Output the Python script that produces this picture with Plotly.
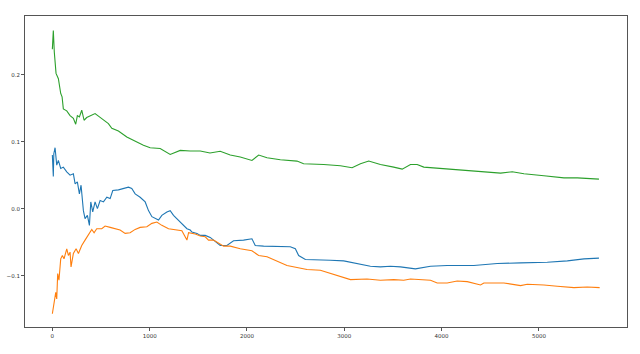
import plotly.graph_objects as go

# Series 1 (blue)
blue_x = [0, 10, 15, 28, 45, 62, 86, 113, 148, 182, 216, 234, 257, 278, 295, 319, 336, 360, 381, 395,
          415, 439, 463, 491, 525, 560, 594, 621, 679, 730, 782, 816, 851, 902, 954, 988, 1023, 1091,
          1125, 1177, 1211, 1245, 1314, 1383, 1417, 1434, 1486, 1520, 1571, 1622, 1725, 1794, 1862,
          1965, 2051, 2085, 2171, 2308, 2445, 2497, 2531, 2600, 2720, 2857, 2994, 3131, 3268, 3371,
          3474, 3577, 3731, 3886, 4057, 4331, 4572, 4812, 5086, 5292, 5463, 5617]
blue_y = [0.080, 0.048, 0.082, 0.091, 0.065, 0.072, 0.060, 0.062, 0.055, 0.050, 0.052, 0.037, 0.040,
          0.022, 0.035, -0.003, -0.015, -0.010, -0.025, 0.010, -0.005, 0.010, 0.000, 0.012, 0.010,
          0.017, 0.015, 0.027, 0.028, 0.030, 0.032, 0.030, 0.022, 0.017, 0.010, -0.003, -0.012, -0.017,
          -0.010, -0.005, -0.003, -0.010, -0.020, -0.030, -0.032, -0.035, -0.037, -0.040, -0.040,
          -0.043, -0.055, -0.055, -0.048, -0.047, -0.045, -0.055, -0.056, -0.056, -0.057, -0.060,
          -0.070, -0.076, -0.076, -0.077, -0.078, -0.082, -0.086, -0.087, -0.086, -0.087, -0.090,
          -0.086, -0.085, -0.085, -0.082, -0.081, -0.080, -0.078, -0.075, -0.074]

# Series 2 (orange)
orange_x = [0, 17, 35, 45, 55, 68, 86, 103, 120, 148, 165, 182, 192, 216, 244, 268, 302, 336, 370,
            405, 429, 456, 508, 542, 594, 645, 696, 748, 799, 851, 902, 971, 1023, 1074, 1125, 1194,
            1262, 1331, 1383, 1400, 1468, 1520, 1571, 1605, 1657, 1760, 1828, 1931, 2051, 2120, 2206,
            2308, 2411, 2514, 2617, 2754, 2857, 2960, 3063, 3234, 3371, 3508, 3611, 3680, 3886, 3955,
            4057, 4160, 4263, 4400, 4434, 4640, 4812, 4880, 5051, 5189, 5360, 5497, 5624]
orange_y = [-0.157, -0.142, -0.125, -0.135, -0.097, -0.107, -0.075, -0.070, -0.075, -0.060, -0.070,
            -0.065, -0.087, -0.067, -0.060, -0.067, -0.055, -0.047, -0.040, -0.031, -0.036, -0.030,
            -0.030, -0.026, -0.028, -0.030, -0.032, -0.037, -0.036, -0.031, -0.028, -0.027, -0.022,
            -0.020, -0.025, -0.030, -0.032, -0.033, -0.047, -0.036, -0.038, -0.041, -0.042, -0.047,
            -0.047, -0.056, -0.056, -0.060, -0.063, -0.070, -0.072, -0.079, -0.085, -0.088, -0.091,
            -0.092, -0.097, -0.101, -0.106, -0.105, -0.107, -0.106, -0.107, -0.105, -0.107, -0.111,
            -0.111, -0.108, -0.109, -0.114, -0.111, -0.111, -0.115, -0.113, -0.114, -0.116, -0.118,
            -0.117, -0.118]

# Series 3 (green)
green_x = [0, 10, 20, 38, 62, 86, 100, 113, 148, 182, 216, 240, 257, 278, 302, 326, 353, 388, 439,
           484, 525, 576, 611, 679, 765, 868, 936, 1005, 1108, 1211, 1314, 1417, 1520, 1620, 1725,
           1828, 1931, 2051, 2120, 2206, 2343, 2514, 2582, 2788, 2960, 3080, 3166, 3251, 3371, 3508,
           3595, 3680, 3749, 3817, 3989, 4160, 4400, 4606, 4726, 4846, 5051, 5257, 5395, 5617]
green_y = [0.238, 0.266, 0.234, 0.202, 0.194, 0.172, 0.167, 0.149, 0.146, 0.139, 0.135, 0.126, 0.139,
           0.137, 0.147, 0.132, 0.136, 0.138, 0.142, 0.137, 0.132, 0.127, 0.120, 0.116, 0.107, 0.0996,
           0.0946, 0.091, 0.0897, 0.081, 0.087, 0.086, 0.086, 0.083, 0.0857, 0.080, 0.077, 0.072,
           0.080, 0.076, 0.073, 0.071, 0.067, 0.066, 0.064, 0.061, 0.067, 0.071, 0.066, 0.062, 0.059,
           0.066, 0.066, 0.062, 0.060, 0.058, 0.056, 0.053, 0.055, 0.052, 0.049, 0.046, 0.046, 0.044]

x_ticks = [0, 1000, 2000, 3000, 4000, 5000]
y_ticks = [-0.1, 0.0, 0.1, 0.2]
y_tick_text = ["\u22120.1", "0.0", "0.1", "0.2"]

fig = go.Figure()
for xs, ys, col in [(blue_x, blue_y, "#1f77b4"), (orange_x, orange_y, "#ff7f0e"), (green_x, green_y, "#2ca02c")]:
    fig.add_trace(go.Scatter(x=xs, y=ys, mode="lines", line=dict(color=col, width=1.1), showlegend=False))

axis_common = dict(showline=True, linecolor="#555", linewidth=1, mirror=True, showgrid=False,
                   zeroline=False, ticks="outside", ticklen=3, tickcolor="#555", automargin=False,
                   tickfont=dict(family="DejaVu Sans", size=5.5, color="#333"))
fig.update_xaxes(range=[-281, 5905], tickvals=x_ticks, ticktext=[str(v) for v in x_ticks], **axis_common)
fig.update_yaxes(range=[-0.1768, 0.2877], tickvals=y_ticks, ticktext=y_tick_text, **axis_common)
fig.update_layout(width=640, height=354, margin=dict(l=25, r=13, t=16, b=27),
                  paper_bgcolor="white", plot_bgcolor="white")
fig.write_html("out.html")
